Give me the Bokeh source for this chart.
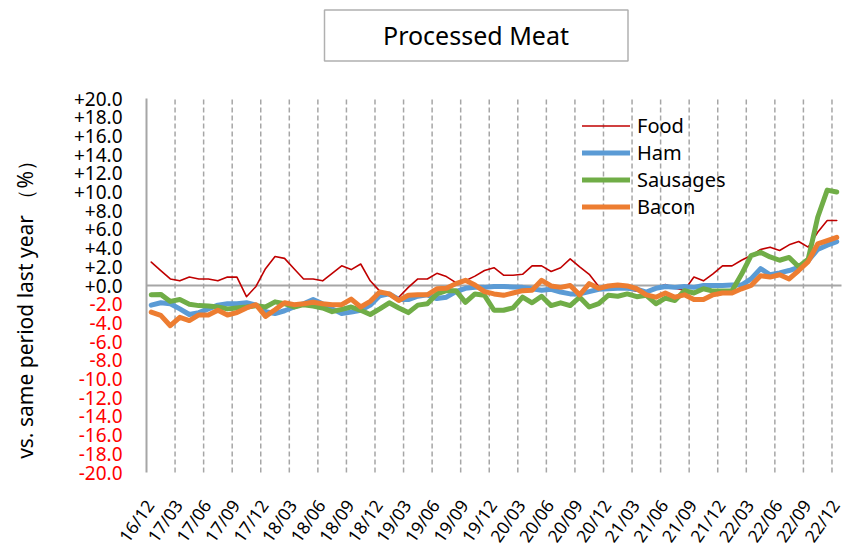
import math
from bokeh.plotting import figure
from bokeh.models import Range1d, Legend, LegendItem
from bokeh.embed import file_html
from bokeh.resources import INLINE
from bokeh.core.properties import value

# ---------------- data ----------------
quarter_labels = ["16/12", "17/03", "17/06", "17/09", "17/12", "18/03", "18/06",
                  "18/09", "18/12", "19/03", "19/06", "19/09", "19/12", "20/03",
                  "20/06", "20/09", "20/12", "21/03", "21/06", "21/09", "21/12",
                  "22/03", "22/06", "22/09", "22/12"]

food = [2.5, 1.6, 0.7, 0.5, 0.9, 0.7, 0.7, 0.5, 0.9, 0.9, -1.2, -0.1, 1.8,
        3.1, 2.9, 1.8, 0.7, 0.7, 0.5, 1.3, 2.1, 1.7, 2.3, 0.5, -0.6, -1.1,
        -1.25, -0.2, 0.7, 0.7, 1.3, 0.95, 0.3, 0.5, 1.0, 1.6, 1.9, 1.1, 1.1,
        1.2, 2.1, 2.1, 1.5, 1.9, 2.85, 2.0, 1.2, -0.1, -0.4, -0.3, -0.4, -0.6,
        -0.6, -0.3, 0.1, -0.3, -0.5, 0.9, 0.5, 1.25, 2.1, 2.1, 2.7, 3.2, 3.85,
        4.1, 3.75, 4.35, 4.7, 4.1, 5.7, 6.95, 6.95]

ham = [-2.1, -1.85, -1.95, -2.5, -3.1, -2.9, -2.5, -2.1, -1.95, -1.95, -1.85,
       -2.1, -2.8, -3.0, -2.7, -2.3, -1.95, -1.5, -1.95, -2.5, -3.0, -2.85,
       -2.65, -2.1, -1.1, -0.9, -1.5, -1.5, -1.15, -1.0, -1.4, -1.25, -0.65,
       -0.3, -0.2, -0.2, -0.1, -0.1, -0.15, -0.2, -0.35, -0.5, -0.4, -0.7,
       -0.9, -0.9, -0.65, -0.4, -0.35, -0.3, -0.3, -0.4, -0.7, -0.3, -0.1,
       -0.2, -0.1, -0.2, 0.0, 0.0, 0.0, 0.05, 0.05, 0.7, 1.8, 1.15, 1.35,
       1.6, 1.95, 2.65, 3.85, 4.3, 4.7]

sausages = [-1.0, -0.95, -1.7, -1.5, -2.0, -2.15, -2.2, -2.3, -2.5, -2.4,
            -2.3, -2.15, -2.3, -1.75, -1.95, -2.3, -2.05, -2.2, -2.4, -2.8,
            -2.55, -2.3, -2.65, -3.1, -2.5, -1.85, -2.4, -2.9, -2.1, -1.95,
            -0.9, -0.55, -0.55, -1.8, -0.9, -1.05, -2.65, -2.65, -2.4, -1.25,
            -1.85, -1.15, -2.15, -1.85, -2.15, -1.25, -2.3, -1.95, -1.05,
            -1.15, -0.9, -1.2, -1.05, -1.95, -1.35, -1.6, -0.55, -0.8, -0.35,
            -0.6, -0.6, -0.55, 1.2, 3.2, 3.55, 3.05, 2.7, 3.0, 2.0, 2.8, 7.3,
            10.2, 10.0]

bacon = [-2.85, -3.2, -4.3, -3.4, -3.75, -3.15, -3.15, -2.65, -3.15, -2.9,
         -2.4, -2.05, -3.3, -2.6, -1.85, -2.05, -1.95, -1.8, -1.95, -2.05,
         -2.05, -1.45, -2.3, -1.7, -0.7, -0.9, -1.6, -1.05, -1.0, -1.0, -0.35,
         -0.3, 0.2, 0.55, 0.05, -0.65, -0.9, -1.05, -0.8, -0.55, -0.5, 0.55,
         -0.05, -0.2, 0.0, -1.0, 0.2, -0.3, -0.05, 0.05, -0.05, -0.35, -1.0,
         -1.25, -0.8, -1.25, -1.0, -1.5, -1.5, -1.0, -0.8, -0.8, -0.35, 0.0,
         1.05, 0.9, 1.15, 0.7, 1.6, 2.55, 4.45, 4.8, 5.15]

series_names = ["Food", "Ham", "Sausages", "Bacon"]
y_pos_ticks = [0, 2, 4, 6, 8, 10, 12, 14, 16, 18, 20]
y_pos_labels = ["+0.0", "+2.0", "+4.0", "+6.0", "+8.0", "+10.0", "+12.0",
                "+14.0", "+16.0", "+18.0", "+20.0"]
y_neg_ticks = [-2, -4, -6, -8, -10, -12, -14, -16, -18, -20]
y_neg_labels = ["-2.0", "-4.0", "-6.0", "-8.0", "-10.0", "-12.0", "-14.0",
                "-16.0", "-18.0", "-20.0"]
title_text = "Processed Meat"
y_title = "vs. same period last year （%）"

# ---------------- styles / geometry (canvas pixels) ----------------
FONT = "Noto Sans"
GRAY = "#A6A6A6"
colors = ["#C00000", "#5B9BD5", "#70AD47", "#ED7D31"]
widths = [1.6, 5, 5, 5]

W, H = 864, 548
FL, FR, FT, FB = 146, 841, 98, 472   # plot area on the canvas
YMIN, YMAX = -20, 20

n = len(food)
xc = [i + 0.5 for i in range(n)]          # category centres
q_ticks = [3 * k for k in range(len(quarter_labels))]


def px_x(px):
    return (px - FL) * n / (FR - FL)


def px_y(py):
    return YMAX - (py - FT) * (YMAX - YMIN) / (FB - FT)


p = figure(width=W, height=H,
           x_range=Range1d(px_x(0), px_x(W)),
           y_range=Range1d(px_y(H), px_y(0)),
           toolbar_location=None, output_backend="svg", min_border=0,
           x_axis_location=None, y_axis_location=None)
p.grid.visible = False
p.outline_line_color = None
p.background_fill_color = "white"

# title box
p.quad(left=px_x(324), right=px_x(627.5), top=px_y(9.5), bottom=px_y(60.5),
       fill_color="white", line_color="#B0B0B0", line_width=1.5)
p.text(x=[px_x(475.5)], y=[px_y(34.5)], text=[title_text], text_align="center",
       text_baseline="middle", text_font=value(FONT), text_font_size="25px",
       text_color="#000000")

# vertical dashed gridlines at quarter ticks
p.segment(x0=q_ticks[1:], x1=q_ticks[1:], y0=[YMIN] * (len(q_ticks) - 1),
          y1=[YMAX] * (len(q_ticks) - 1), line_color=GRAY, line_width=1.5,
          line_dash="5 3")
# left axis line and zero (category axis) line
p.segment(x0=[0], x1=[0], y0=[YMIN], y1=[YMAX], line_color=GRAY, line_width=2)
p.segment(x0=[0], x1=[n], y0=[0], y1=[0], line_color=GRAY, line_width=2)

# y tick labels
p.text(x=[0] * len(y_pos_ticks), y=y_pos_ticks, text=y_pos_labels, x_offset=-24,
       text_align="right", text_baseline="middle", text_font=value(FONT),
       text_font_size="19px", text_color="#000000")
p.text(x=[0] * len(y_neg_ticks), y=y_neg_ticks, text=y_neg_labels, x_offset=-24,
       text_align="right", text_baseline="middle", text_font=value(FONT),
       text_font_size="19px", text_color="#FF0000")

# y axis title
p.text(x=[px_x(24)], y=[px_y(304)], text=[y_title], angle=math.pi / 2,
       text_align="center", text_baseline="middle", text_font=value(FONT),
       text_font_size="21px", text_color="#000000")

# x tick labels (rotated)
p.text(x=q_ticks, y=[px_y(501)] * len(q_ticks), text=quarter_labels,
       x_offset=3, angle=math.radians(55), text_align="right",
       text_baseline="middle", text_font=value(FONT), text_font_size="17.5px",
       text_color="#000000")

# series
renderers = []
for vals, c, w in zip([food, ham, sausages, bacon], colors, widths):
    r = p.line(xc, vals, line_color=c, line_width=w, line_join="round",
               line_cap="round")
    renderers.append(r)

legend = Legend(items=[LegendItem(label=nm, renderers=[r])
                       for nm, r in zip(series_names, renderers)],
                location=(582, H - 111.5 - 108),
                orientation="vertical",
                glyph_width=48, glyph_height=27, label_height=27,
                label_standoff=7, spacing=0, padding=0, margin=0,
                label_text_font=FONT, label_text_font_size="20px",
                label_text_color="#000000",
                background_fill_alpha=0, border_line_alpha=0)
p.add_layout(legend)

open("out.html", "w").write(file_html(p, INLINE))
